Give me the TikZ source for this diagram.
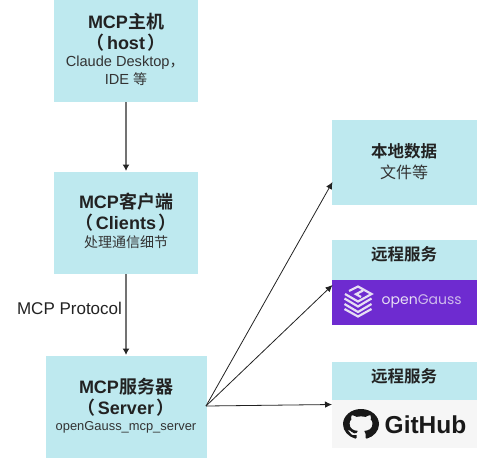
\documentclass[tikz,border=0pt]{standalone}
\usepackage{fontspec}
\setmainfont{Liberation Sans}
\newfontfamily\cjk{Noto Sans CJK SC}[BoldFont={Noto Sans CJK SC Bold}]
\newfontfamily\logofont{Poppins}
\usetikzlibrary{arrows.meta,svg.path}
\definecolor{boxblue}{HTML}{BEE9EF}
\definecolor{gausspurple}{HTML}{6E2BD0}
\definecolor{logolight}{HTML}{E6DEF3}
\definecolor{hubgrey}{HTML}{F6F6F6}
\definecolor{inkdark}{HTML}{222222}
\definecolor{inkthin}{HTML}{333333}
\tikzset{
  boxfill/.style={fill=boxblue,draw=none,inner sep=0pt,outer sep=0pt},
  title/.style={font=\fontsize{18}{20}\selectfont\bfseries,text=inkdark,inner sep=0pt},
  sub/.style={font=\fontsize{14.6}{17}\selectfont,text=inkthin,inner sep=0pt},
  flow/.style={draw=black!55,line width=1.3pt,-{Latex[length=6.5pt,width=7pt,black!85!white]},shorten >=0.5pt},
  fan/.style={draw=inkdark,line width=0.8pt,-{Latex[length=7pt,width=6.5pt,inkdark]}},
}
\begin{document}
\begin{tikzpicture}[x=1pt,y=-1pt]
\useasboundingbox (0,0) rectangle (478,458);
% boxes
\fill[boxfill] (54,0) rectangle (198,102);
\coordinate (hostS) at (126,102);
\fill[boxfill] (54,172) rectangle (198,274);
\coordinate (cliN) at (126,171.5);
\coordinate (cliS) at (126,274);
\fill[boxfill] (46,356) rectangle (207,458);
\coordinate (srvN) at (126,355.5);
\coordinate (srvE) at (206,406);
\fill[boxfill] (332,120) rectangle (477,205);
\coordinate (locW) at (332.5,182);
\fill[boxfill] (332,240) rectangle (477,280);
\fill[gausspurple] (332,280) rectangle (477,325);
\coordinate (gauW) at (332.5,285);
\fill[boxfill] (332,362) rectangle (477,400);
\fill[hubgrey] (332,400) rectangle (477,448);
\coordinate (hubW) at (332,404.5);
% texts
\node[title] (t1) at (126,22) {MCP{\cjk 主机}};
\node[title] (t2) at (126,43) {{\cjk（}\hspace{2.5pt}host\hspace{2.5pt}{\cjk ）}};
\node[sub] (t3) at (125,63) {Claude Desktop{\cjk ，}};
\node[sub] (t4) at (126,79) {IDE {\cjk\fontsize{14}{16}\selectfont 等}};
\node[title] (t5) at (126,202) {MCP{\cjk 客户端}};
\node[title] (t6) at (126,223) {{\cjk（}\hspace{2.5pt}Clients\hspace{2.5pt}{\cjk ）}};
\node[sub,font=\fontsize{14}{16}\selectfont\cjk] (t7) at (126,242.5) {处理通信细节};
\node[title] (t8) at (126,387) {MCP{\cjk 服务器}};
\node[title] (t9) at (126,408) {{\cjk（}\hspace{2.5pt}Server\hspace{2.5pt}{\cjk ）}};
\node[sub,font=\fontsize{12.9}{15}\selectfont] (t10) at (126,427) {openGauss\_mcp\_server};
\node[title,font=\fontsize{16.5}{18}\selectfont\cjk\bfseries] (t11) at (404,151) {本地数据};
\node[sub,font=\fontsize{16}{18}\selectfont\cjk] (t12) at (404,172) {文件等};
\node[title,font=\fontsize{16.5}{18}\selectfont\cjk\bfseries] (t13) at (404,254) {远程服务};
\node[title,font=\fontsize{16.5}{18}\selectfont\cjk\bfseries] (t14) at (404,376) {远程服务};
\node[inner sep=0pt,text=inkdark,font=\fontsize{17}{19}\selectfont] (proto) at (69.5,308) {MCP Protocol};
% connectors
\draw[flow] (hostS) -- (cliN);
\draw[flow] (cliS) -- (srvN);
\draw[fan] (srvE) -- (locW);
\draw[fan] (srvE) -- (gauW);
\draw[fan] (srvE) -- (hubW);
% openGauss logo
\begin{scope}[draw=logolight,line width=2.2pt,line join=miter,line cap=butt]
\draw (349,291) -- (358,286.5) -- (371.5,294) -- (358,301.5) -- (345,294) ;
\draw (363,290.5) -- (356,294.2) -- (361,297);
\draw (344.5,298.5) -- (358,306.5) -- (371.5,298.5);
\draw (344.5,304) -- (358,312) -- (371.5,304);
\draw (344.5,309) -- (358,316.5) -- (371.5,309);
\end{scope}
\node[inner sep=0pt,text=logolight,font=\fontsize{14}{16}\selectfont\logofont,anchor=west] (gauss) at (381.5,301) {open{\color{logolight!80!gausspurple}Gauss}};
% GitHub logo
\begin{scope}[shift={(343,409)},xscale=2.25,yscale=-1.9]
\fill[black!90] svg "M 8 0 C 3.58 0 0 3.58 0 8 c 0 3.54 2.29 6.53 5.47 7.59 c .4 .07 .55 -.17 .55 -.38 c 0 -.19 -.01 -.82 -.01 -1.49 c -2.01 .37 -2.53 -.49 -2.69 -.94 c -.09 -.23 -.48 -.94 -.82 -1.13 c -.28 -.15 -.68 -.52 -.01 -.53 c .63 -.01 1.08 .58 1.23 .82 c .72 1.21 1.87 .87 2.33 .66 c .07 -.52 .28 -.87 .51 -1.07 c -1.78 -.2 -3.64 -.89 -3.64 -3.95 c 0 -.87 .31 -1.59 .82 -2.15 c -.08 -.2 -.36 -1.02 .08 -2.12 c 0 0 .67 -.21 2.2 .82 c .64 -.18 1.32 -.27 2 -.27 c .68 0 1.36 .09 2 .27 c 1.53 -1.04 2.2 -.82 2.2 -.82 c .44 1.1 .16 1.92 .08 2.12 c .51 .56 .82 1.27 .82 2.15 c 0 3.07 -1.87 3.75 -3.65 3.95 c .29 .25 .54 .73 .54 1.48 c 0 1.07 -.01 1.93 -.01 2.2 c 0 .21 .15 .46 .55 .38 C 13.71 14.53 16 11.54 16 8 c 0 -4.42 -3.58 -8 -8 -8 z";
\end{scope}
\node[inner sep=0pt,text=black!90,font=\fontsize{24.5}{26}\selectfont\bfseries,anchor=west] (hub) at (384.5,424.5) {GitHub};
\end{tikzpicture}
\end{document}
